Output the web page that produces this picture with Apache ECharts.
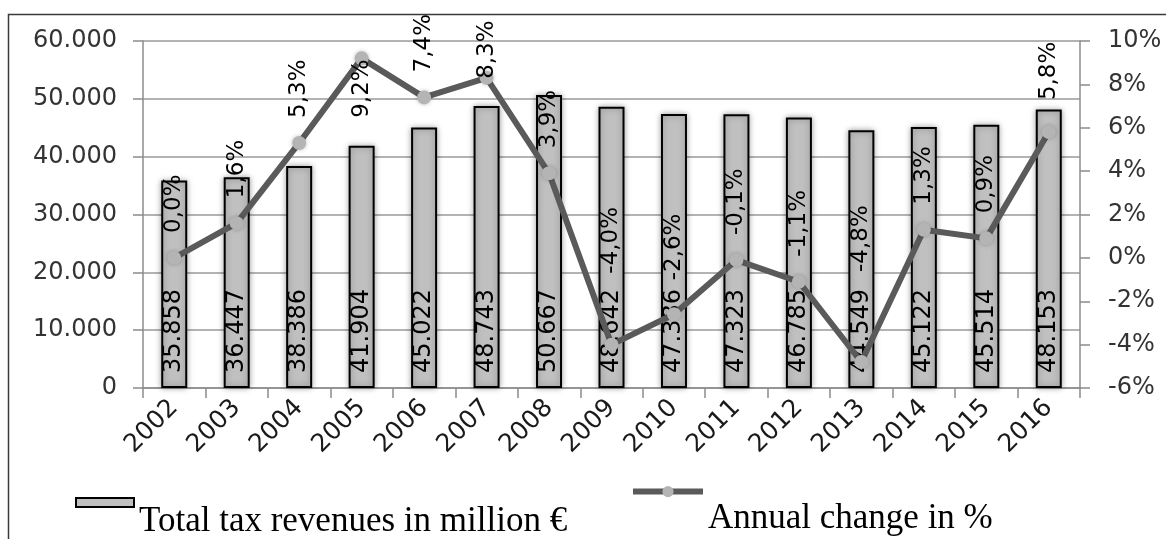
<!DOCTYPE html>
<html>
<head>
<meta charset="utf-8">
<script src="https://cdn.jsdelivr.net/npm/echarts@6/dist/echarts.min.js"></script>
<style>
  html, body { margin: 0; padding: 0; background: #fff; }
  #chart { width: 1166px; height: 539px; }
</style>
</head>
<body>
<div id="chart"></div>
<script>
  // data
  var years = ['2002', '2003', '2004', '2005', '2006', '2007', '2008', '2009', '2010', '2011', '2012', '2013', '2014', '2015', '2016'];
  var revenues = [35858, 36447, 38386, 41904, 45022, 48743, 50667, 48642, 47386, 47323, 46785, 44549, 45122, 45514, 48153];
  var changes = [0.0, 1.6, 5.3, 9.2, 7.4, 8.3, 3.9, -4.0, -2.6, -0.1, -1.1, -4.8, 1.3, 0.9, 5.8];
  var leftTicks = { min: 0, max: 60000, step: 10000 };
  var rightTicks = { min: -6, max: 10, step: 2 };

  // label placement tweaks (the source labels were moved by hand)
  var labelGap = { '2005': -6, '2007': -8, '2009': 64, '2010': 27, '2013': 83, '2016': 25 };

  function fmtThousands(v) {
    return String(v).replace(/\B(?=(\d{3})+(?!\d))/g, '.');
  }
  function fmtPct(v) {
    return v.toFixed(1).replace('.', ',') + '%';
  }

  var chartFont = 'DejaVu Sans';
  var myChart = echarts.init(document.getElementById('chart'));

  // line points with per-label positions
  var lineData = [];
  for (var i = 0; i < changes.length; i++) {
    var gap = labelGap[years[i]] !== undefined ? labelGap[years[i]] : 18;
    var lbl;
    if (years[i] === '2005') {
      lbl = { position: 'bottom', distance: gap, align: 'right' };
    } else {
      lbl = { position: 'top', distance: gap, align: 'left' };
    }
    lineData.push({ value: changes[i], label: lbl });
  }

  function legendText(padTop) {
    return {
      fontFamily: 'Liberation Serif', fontSize: 35, color: '#000',
      rich: { t: { fontFamily: 'Liberation Serif', fontSize: 35, color: '#000', padding: [padTop, 0, 0, 0] } }
    };
  }

  myChart.setOption({
    animation: false,
    textStyle: { fontFamily: chartFont },
    grid: { left: 143, right: 86, top: 41, bottom: 151, containLabel: false },
    graphic: [{
      type: 'rect',
      shape: { x: 8.5, y: 14.5, width: 1200, height: 600 },
      style: { fill: 'none', stroke: '#3a3a3a', lineWidth: 1.5 },
      silent: true
    }],
    legend: [{
      data: [{ name: 'Total tax revenues in million €', icon: 'rect' }],
      left: 70, top: 492,
      itemWidth: 58, itemHeight: 9,
      formatter: function (n) { return '{t|' + n + '}'; },
      textStyle: legendText(39)
    }, {
      data: ['Annual change in %'],
      left: 625, top: 481,
      itemWidth: 70, itemHeight: 14,
      lineStyle: { width: 6 },
      formatter: function (n) { return '{t|' + n + '}'; },
      textStyle: legendText(54)
    }],
    xAxis: {
      type: 'category',
      data: years,
      boundaryGap: true,
      axisLine: { lineStyle: { color: '#8c8c8c', width: 1.5 } },
      axisTick: { show: true, length: 10, lineStyle: { color: '#8c8c8c', width: 1.5 } },
      axisLabel: { rotate: 45, margin: 16, fontSize: 25, color: '#1a1a1a', fontFamily: chartFont }
    },
    yAxis: [{
      type: 'value',
      min: leftTicks.min, max: leftTicks.max, interval: leftTicks.step,
      axisLine: { show: true, lineStyle: { color: '#8c8c8c', width: 1.5 } },
      axisTick: { show: true, length: 10, lineStyle: { color: '#8c8c8c', width: 1.5 } },
      splitLine: { show: true, lineStyle: { color: '#9a9a9a', width: 1.5 } },
      axisLabel: {
        margin: 26, fontSize: 24, color: '#333', fontFamily: chartFont,
        formatter: function (v) { return fmtThousands(v); }
      }
    }, {
      type: 'value',
      position: 'right',
      min: rightTicks.min, max: rightTicks.max, interval: rightTicks.step,
      axisLine: { show: true, lineStyle: { color: '#8c8c8c', width: 1.5 } },
      axisTick: { show: true, length: 10, lineStyle: { color: '#8c8c8c', width: 1.5 } },
      splitLine: { show: false },
      axisLabel: { margin: 28, fontSize: 24, color: '#333', fontFamily: chartFont, formatter: '{value}%' }
    }],
    series: [{
      name: 'Total tax revenues in million €',
      type: 'bar',
      yAxisIndex: 0,
      barWidth: 26,
      data: revenues,
      itemStyle: {
        color: '#c0c0c0', borderColor: '#000', borderWidth: 2,
        shadowBlur: 6, shadowColor: 'rgba(0,0,0,0.35)'
      },
      label: {
        show: true, position: 'insideBottom', rotate: 90, distance: 15,
        align: 'left', verticalAlign: 'middle',
        fontSize: 24, color: '#000', fontFamily: chartFont,
        formatter: function (p) { return fmtThousands(p.value); }
      }
    }, {
      name: 'Annual change in %',
      type: 'line',
      yAxisIndex: 1,
      data: lineData,
      symbol: 'circle',
      symbolSize: 14,
      lineStyle: { color: '#5a5a5a', width: 6 },
      itemStyle: { color: '#b4b4b4', shadowBlur: 4, shadowColor: 'rgba(0,0,0,0.25)' },
      label: {
        show: true, rotate: 90, verticalAlign: 'middle',
        fontSize: 23, color: '#000', fontFamily: chartFont,
        formatter: function (p) { return fmtPct(p.value); }
      },
      z: 3
    }]
  });
</script>
</body>
</html>
